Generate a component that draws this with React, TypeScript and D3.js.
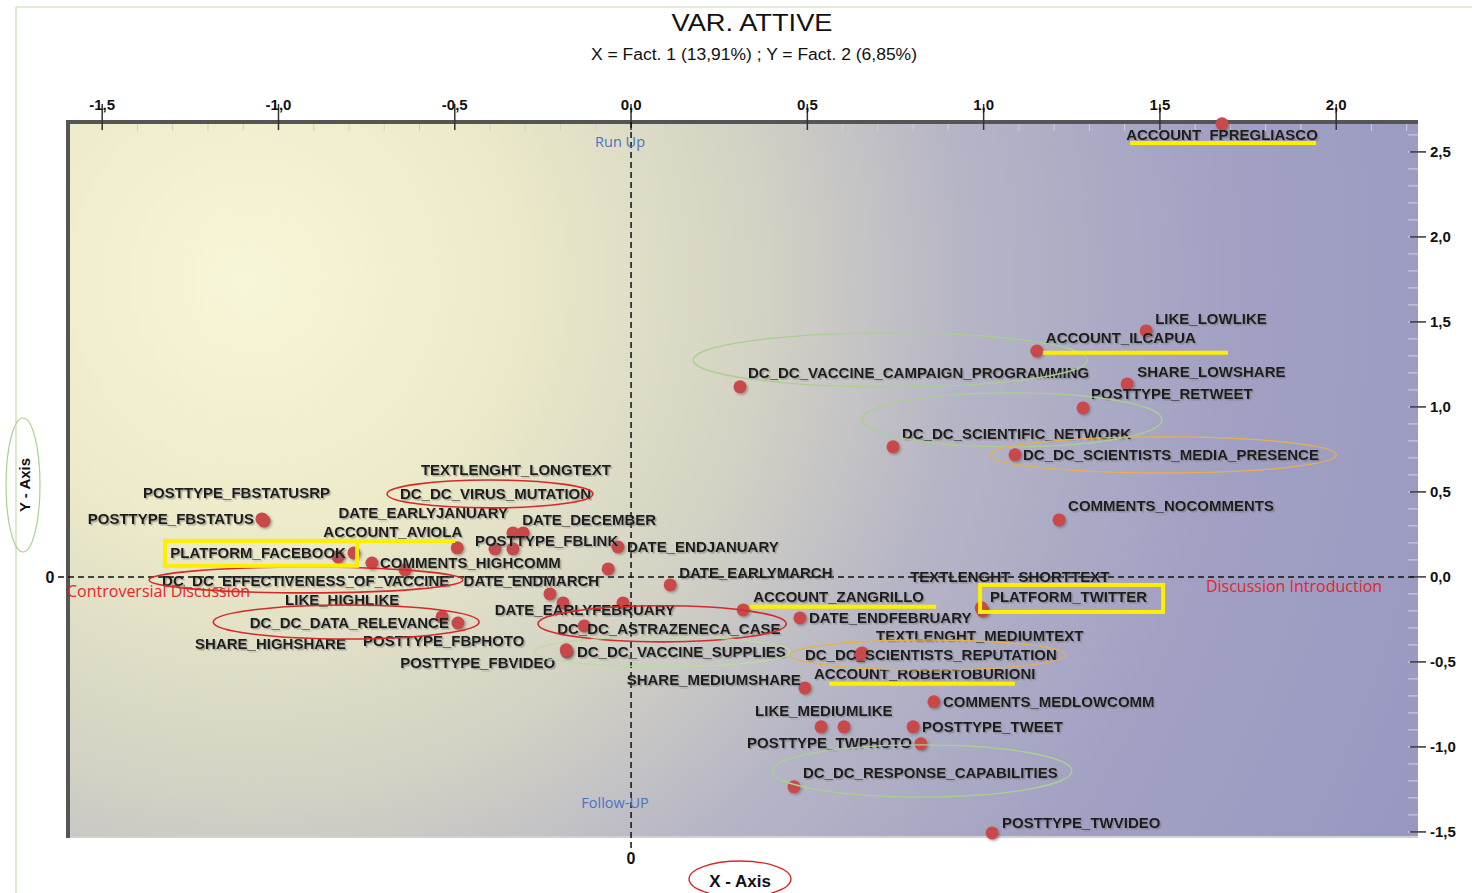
import * as d3 from 'd3';

// modalities (active variables) and their coordinates on factor 1 / factor 2
const modalities = [
  'ACCOUNT_FPREGLIASCO', 'LIKE_LOWLIKE', 'ACCOUNT_ILCAPUA', 'DC_DC_VACCINE_CAMPAIGN_PROGRAMMING',
  'SHARE_LOWSHARE', 'POSTTYPE_RETWEET', 'DC_DC_SCIENTIFIC_NETWORK', 'DC_DC_SCIENTISTS_MEDIA_PRESENCE',
  'COMMENTS_NOCOMMENTS', 'POSTTYPE_FBSTATUS', 'POSTTYPE_FBSTATUSRP', 'PLATFORM_FACEBOOK',
  'LIKE_HIGHLIKE', 'COMMENTS_HIGHCOMM', 'DC_DC_EFFECTIVENESS_OF_VACCINE', 'ACCOUNT_AVIOLA',
  'SHARE_HIGHSHARE', 'DC_DC_DATA_RELEVANCE', 'DATE_EARLYJANUARY', 'TEXTLENGHT_LONGTEXT',
  'DATE_DECEMBER', 'POSTTYPE_FBLINK', 'DATE_ENDJANUARY', 'DATE_ENDMARCH', 'DATE_EARLYMARCH',
  'DC_DC_VIRUS_MUTATION', 'POSTTYPE_FBPHOTO', 'DATE_EARLYFEBRUARY', 'DC_DC_ASTRAZENECA_CASE',
  'DC_DC_VACCINE_SUPPLIES', 'POSTTYPE_FBVIDEO', 'ACCOUNT_ZANGRILLO', 'DATE_ENDFEBRUARY',
  'PLATFORM_TWITTER', 'TEXTLENGHT_SHORTTEXT', 'DC_DC_SCIENTISTS_REPUTATION', 'TEXTLENGHT_MEDIUMTEXT',
  'SHARE_MEDIUMSHARE', 'COMMENTS_MEDLOWCOMM', 'LIKE_MEDIUMLIKE', 'ACCOUNT_ROBERTOBURIONI',
  'POSTTYPE_TWEET', 'POSTTYPE_TWPHOTO', 'DC_DC_RESPONSE_CAPABILITIES', 'POSTTYPE_TWVIDEO',
];

const fact1 = [
  1.676, 1.461, 1.151, 0.309, 1.407, 1.282, 0.743, 1.089, 1.214, -1.047, -1.041, -0.786,
  -0.831, -0.735, -0.641, -0.493, -0.536, -0.491, -0.386, -0.335, -0.306, -0.335, -0.037,
  -0.065, 0.111, -0.23, -0.193, -0.023, -0.133, -0.182, -0.184, 0.318, 0.479, 0.998, 0.993,
  0.649, 0.655, 0.493, 0.859, 0.539, 0.604, 0.8, 0.822, 0.462, 1.024,
];

const fact2 = [
  2.665, 1.447, 1.329, 1.118, 1.135, 0.994, 0.765, 0.718, 0.335, 0.341, 0.329, 0.141,
  0.118, 0.082, 0.041, 0.171, -0.235, -0.271, 0.165, 0.259, 0.259, 0.165, 0.176, 0.047,
  -0.047, -0.1, -0.153, -0.153, -0.288, -0.441, -0.429, -0.194, -0.241, -0.2, -0.182,
  -0.459, -0.447, -0.653, -0.735, -0.882, -0.882, -0.882, -0.982, -1.235, -1.506,
];

const xTicks = [-1.5, -1.0, -0.5, 0, 0.5, 1.0, 1.5, 2.0];
const yTicks = [2.5, 2.0, 1.5, 1.0, 0.5, 0, -0.5, -1.0, -1.5];

// label placement relative to its point: [dx, dy, anchor]
const labelPlacement: Record<string, [number, number, string]> = {
  ACCOUNT_FPREGLIASCO: [0, 11, 'middle'],
  LIKE_LOWLIKE: [9, -12, 'start'],
  ACCOUNT_ILCAPUA: [9, -13, 'start'],
  DC_DC_VACCINE_CAMPAIGN_PROGRAMMING: [8, -14, 'start'],
  SHARE_LOWSHARE: [10, -12, 'start'],
  POSTTYPE_RETWEET: [8, -14, 'start'],
  DC_DC_SCIENTIFIC_NETWORK: [9, -13, 'start'],
  DC_DC_SCIENTISTS_MEDIA_PRESENCE: [8, 0, 'start'],
  COMMENTS_NOCOMMENTS: [9, -14, 'start'],
  POSTTYPE_FBSTATUS: [-8, 0, 'end'],
  POSTTYPE_FBSTATUSRP: [66, -28, 'end'],
  PLATFORM_FACEBOOK: [-8, 0, 'end'],
  LIKE_HIGHLIKE: [-53, 43, 'start'],
  COMMENTS_HIGHCOMM: [8, 0, 'start'],
  DC_DC_EFFECTIVENESS_OF_VACCINE: [-243, 11, 'start'],
  ACCOUNT_AVIOLA: [5, -16, 'end'],
  SHARE_HIGHSHARE: [-247, 27, 'start'],
  DC_DC_DATA_RELEVANCE: [-9, 0, 'end'],
  DATE_EARLYJANUARY: [13, -36, 'end'],
  TEXTLENGHT_LONGTEXT: [-92, -63, 'start'],
  DATE_DECEMBER: [-1, -13, 'start'],
  POSTTYPE_FBLINK: [-38, -8, 'start'],
  DATE_ENDJANUARY: [9, 0, 'start'],
  DATE_ENDMARCH: [-9, 12, 'end'],
  DATE_EARLYMARCH: [9, -12, 'start'],
  DC_DC_VIRUS_MUTATION: [-150, -100, 'start'],
  POSTTYPE_FBPHOTO: [-200, 38, 'start'],
  DATE_EARLYFEBRUARY: [52, 7, 'end'],
  DC_DC_ASTRAZENECA_CASE: [-27, 3, 'start'],
  DC_DC_VACCINE_SUPPLIES: [10, 0, 'start'],
  POSTTYPE_FBVIDEO: [-166, 13, 'start'],
  ACCOUNT_ZANGRILLO: [10, -13, 'start'],
  DATE_ENDFEBRUARY: [9, 0, 'start'],
  PLATFORM_TWITTER: [7, -14, 'start'],
  TEXTLENGHT_SHORTTEXT: [-71, -31, 'start'],
  DC_DC_SCIENTISTS_REPUTATION: [-55, 0, 'start'],
  TEXTLENGHT_MEDIUMTEXT: [14, -17, 'start'],
  SHARE_MEDIUMSHARE: [-4, -8, 'end'],
  COMMENTS_MEDLOWCOMM: [9, 0, 'start'],
  LIKE_MEDIUMLIKE: [-66, -16, 'start'],
  ACCOUNT_ROBERTOBURIONI: [-30, -53, 'start'],
  POSTTYPE_TWEET: [9, 0, 'start'],
  POSTTYPE_TWPHOTO: [-9, -1, 'end'],
  DC_DC_RESPONSE_CAPABILITIES: [9, -14, 'start'],
  POSTTYPE_TWVIDEO: [10, -10, 'start'],
};

// hand-drawn annotations, in factor units: [cx, cy, rx, ry, colour]
const rings: [number, number, number, number, string][] = [
  [0.735, 1.276, 0.559, 0.159, '#a9d08e'],
  [1.081, 0.924, 0.425, 0.159, '#a9d08e'],
  [1.509, 0.718, 0.491, 0.106, '#e8b04a'],
  [-0.4, 0.488, 0.292, 0.082, '#d42a2a'],
  [-0.922, -0.018, 0.445, 0.076, '#d42a2a'],
  [-0.808, -0.265, 0.377, 0.1, '#d42a2a'],
  [0.088, -0.276, 0.352, 0.106, '#d42a2a'],
  [0.088, -0.441, 0.363, 0.088, '#b9dca0'],
  [0.842, -0.459, 0.391, 0.088, '#e8b04a'],
  [0.825, -1.141, 0.425, 0.153, '#a9d08e'],
];

// yellow highlights: boxes [x0, x1, y0, y1] and underlines [x0, x1, y]
const boxes: [number, number, number, number][] = [
  [-1.322, -0.777, 0.212, 0.065],
  [0.99, 1.509, -0.047, -0.206],
];
const underlines: [number, number, number][] = [
  [1.415, 1.943, 2.553],
  [1.168, 1.693, 1.318],
  [-0.777, -0.499, 0.212],
  [0.337, 0.865, -0.176],
  [0.562, 1.089, -0.629],
];

const W = 1472;
const H = 893;
const plot = { left: 68, right: 1418, top: 122, bottom: 836 };

const fmt = (v: number) => d3.format('.1f')(v).replace('.', ',').replace('\u2212', '-');

export default function App() {
  const x = d3.scaleLinear().domain([-1.597, 2.232]).range([plot.left, plot.right]);
  const y = d3.scaleLinear().domain([-1.524, 2.676]).range([plot.bottom, plot.top]);
  const x0 = x(0);
  const y0 = y(0);
  const minorX = d3.range(-15, 23).map((i) => i / 10);
  const minorY = d3.range(-15, 27).map((i) => i / 10);
  const labelFont = '"Liberation Sans", Arial, sans-serif';
  const noteFont = '"Open Sans", sans-serif';

  return (
    <svg width={W} height={H} style={{ position: 'absolute', left: 0, top: 0, background: '#fff' }}>
      <defs>
        <radialGradient id="bg" gradientUnits="userSpaceOnUse" cx={250} cy={280} r={1300}>
          <stop offset="0" stopColor="#f8f6d8" />
          <stop offset="0.2" stopColor="#eceac8" />
          <stop offset="0.4" stopColor="#d2d1c4" />
          <stop offset="0.55" stopColor="#b6b5c6" />
          <stop offset="0.75" stopColor="#a2a1c4" />
          <stop offset="1" stopColor="#9897c0" />
        </radialGradient>
        <filter id="txtShadow" x="-5%" y="-30%" width="110%" height="160%">
          <feDropShadow dx="1.5" dy="1.5" stdDeviation="0.7" floodColor="#6f6f6f" floodOpacity="0.55" />
        </filter>
        <filter id="dotShadow" x="-50%" y="-50%" width="200%" height="200%">
          <feDropShadow dx="1.5" dy="1.5" stdDeviation="1" floodColor="#555" floodOpacity="0.5" />
        </filter>
      </defs>

      {/* outer frame */}
      <line x1={16} x2={W} y1={7} y2={7} stroke="#c4dcb0" strokeWidth={1.2} />
      <line x1={16} x2={16} y1={7} y2={H} stroke="#c4dcb0" strokeWidth={1.2} />

      {/* titles */}
      <text x={752} y={31} textAnchor="middle" fontFamily={labelFont} fontSize={24} textLength={161} lengthAdjust="spacingAndGlyphs" fill="#111">
        VAR. ATTIVE
      </text>
      <text x={754} y={60} textAnchor="middle" fontFamily={labelFont} fontSize={16} textLength={326} lengthAdjust="spacingAndGlyphs" fill="#111">
        X = Fact. 1 (13,91%) ; Y = Fact. 2 (6,85%)
      </text>

      {/* plot background */}
      <rect x={plot.left} y={plot.top} width={plot.right - plot.left} height={plot.bottom - plot.top} fill="url(#bg)" />
      <line x1={plot.left} x2={plot.right} y1={plot.bottom + 1} y2={plot.bottom + 1} stroke="#9a9a9a" strokeWidth={1.5} opacity={0.6} />

      {/* minor ticks */}
      {minorX.map((v) => (
        <line key={`mx${v}`} x1={x(v)} x2={x(v)} y1={plot.top} y2={plot.top + 9} stroke="#cfcfcf" strokeWidth={1} />
      ))}
      {minorY.map((v) => (
        <line key={`my${v}`} x1={plot.right - 10} x2={plot.right} y1={y(v)} y2={y(v)} stroke="#d4d4e0" strokeWidth={1} />
      ))}

      {/* frame */}
      <line x1={plot.left - 2} x2={plot.right} y1={plot.top} y2={plot.top} stroke="#555" strokeWidth={4} />
      <line x1={plot.left} x2={plot.left} y1={plot.top - 2} y2={plot.bottom + 2} stroke="#555" strokeWidth={4} />

      {/* top axis */}
      {xTicks.map((v) => (
        <g key={`xt${v}`}>
          <line x1={x(v)} x2={x(v)} y1={104} y2={130} stroke="#333" strokeWidth={1.5} />
          <text x={x(v)} y={110} textAnchor="middle" fontFamily={labelFont} fontWeight="bold" fontSize={15} fill="#111">
            {fmt(v)}
          </text>
        </g>
      ))}

      {/* right axis */}
      {yTicks.map((v) => (
        <g key={`yt${v}`}>
          <line x1={plot.right - 8} x2={plot.right + 8} y1={y(v)} y2={y(v)} stroke="#333" strokeWidth={1.5} />
          <text x={plot.right + 12} y={y(v)} dy="0.35em" fontFamily={labelFont} fontWeight="bold" fontSize={15} fill="#111">
            {fmt(v)}
          </text>
        </g>
      ))}

      {/* origin dashed lines */}
      <line x1={x0} x2={x0} y1={plot.top} y2={851} stroke="#111" strokeWidth={1.5} strokeDasharray="6,4" />
      <line x1={58} x2={plot.right} y1={y0} y2={y0} stroke="#111" strokeWidth={1.5} strokeDasharray="6,4" />
      <text x={50} y={y0} dy="0.35em" textAnchor="middle" fontFamily={labelFont} fontWeight="bold" fontSize={16} fill="#111">0</text>
      <text x={x0} y={864} textAnchor="middle" fontFamily={labelFont} fontWeight="bold" fontSize={16} fill="#111">0</text>

      {/* quadrant notes */}
      <text x={x0 - 11} y={147} textAnchor="middle" fontFamily={noteFont} fontSize={14.5} fill="#4a72c4">Run Up</text>
      <text x={x0 - 16} y={808} textAnchor="middle" fontFamily={noteFont} fontSize={14.5} fill="#4a72c4">Follow-UP</text>
      <text x={67} y={597} fontFamily={noteFont} fontSize={16} fill="#e3262a">Controversial Discussion</text>
      <text x={1294} y={592} textAnchor="middle" fontFamily={noteFont} fontSize={16} fill="#e3262a">Discussion Introduction</text>

      {/* points */}
      {modalities.map((m, i) => (
        <circle key={`p${m}`} cx={x(fact1[i])} cy={y(fact2[i])} r={6.5} fill="#c9494b" filter="url(#dotShadow)" />
      ))}

      {/* labels */}
      {modalities.map((m, i) => {
        const [dx, dy, anchor] = labelPlacement[m] ?? [8, 0, 'start'];
        return (
          <text
            key={`l${m}`}
            x={x(fact1[i]) + dx}
            y={y(fact2[i]) + dy}
            dy="0.35em"
            textAnchor={anchor}
            fontFamily={labelFont}
            fontWeight="bold"
            fontSize={15}
            fill="#1a1a1a"
            filter="url(#txtShadow)"
          >
            {m}
          </text>
        );
      })}

      {/* annotations */}
      {rings.map(([cx, cy, rx, ry, c], i) => (
        <ellipse
          key={`r${i}`}
          cx={x(cx)}
          cy={y(cy)}
          rx={x(cx + rx) - x(cx)}
          ry={y(cy) - y(cy + ry)}
          fill="none"
          stroke={c}
          strokeWidth={c === '#d42a2a' ? 1.6 : 1.3}
        />
      ))}
      {boxes.map(([a, b, c, d], i) => (
        <rect key={`b${i}`} x={x(a)} y={y(c)} width={x(b) - x(a)} height={y(d) - y(c)} fill="none" stroke="#ffee00" strokeWidth={4} />
      ))}
      {underlines.map(([a, b, c], i) => (
        <line key={`u${i}`} x1={x(a)} x2={x(b)} y1={y(c)} y2={y(c)} stroke="#ffee00" strokeWidth={4} />
      ))}

      {/* axis captions */}
      <ellipse cx={23} cy={485} rx={17} ry={67} fill="none" stroke="#a9d08e" strokeWidth={1.2} />
      <text transform="translate(30,485) rotate(-90)" textAnchor="middle" fontFamily={labelFont} fontWeight="bold" fontSize={15} fill="#111">
        Y - Axis
      </text>
      <ellipse cx={740} cy={879} rx={51} ry={18} fill="none" stroke="#d42a2a" strokeWidth={1.3} />
      <text x={740} y={887} textAnchor="middle" fontFamily={labelFont} fontWeight="bold" fontSize={17} fill="#111">
        X - Axis
      </text>
    </svg>
  );
}
